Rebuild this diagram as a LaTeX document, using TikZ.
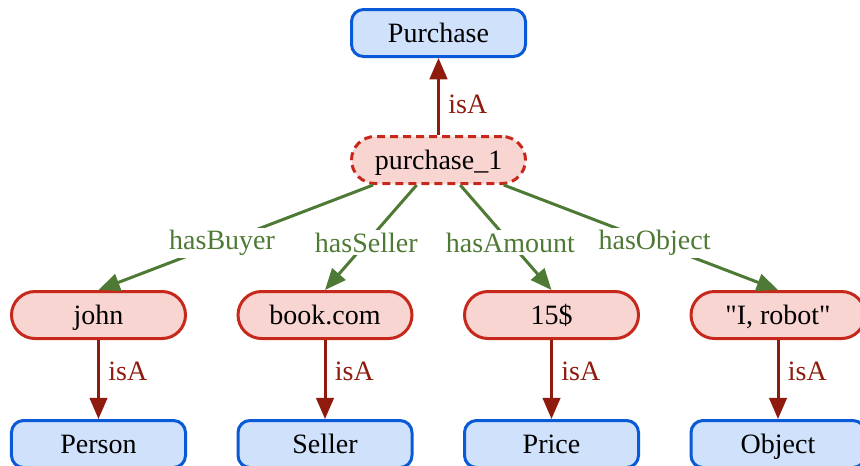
\documentclass[tikz,border=0pt]{standalone}
\usepackage{fontspec}
\setmainfont{Liberation Serif}
\usepackage{xcolor}
\usetikzlibrary{arrows.meta, positioning}

\definecolor{clsline}{HTML}{0A5AD8}
\definecolor{clsfill}{HTML}{CFE1FB}
\definecolor{instline}{HTML}{C7281C}
\definecolor{instfill}{HTML}{F9D5D2}
\definecolor{isacol}{HTML}{8F1A0E}
\definecolor{relcol}{HTML}{4E7A35}

\begin{document}
\begin{tikzpicture}[
  font=\fontsize{11.2}{13}\selectfont,
  node distance=62pt and 45.4pt, on grid,
  cls/.style={draw=clsline, fill=clsfill, line width=1.2pt, rounded corners=4.8pt,
              minimum width=69.6pt, minimum height=18.8pt, inner sep=0pt,
              text height=8.8pt, text depth=1.2pt},
  inst/.style={cls, draw=instline, fill=instfill, rounded corners=9.4pt},
  isa/.style={-{Triangle[length=8.5pt, width=7pt]}, line width=1.2pt, draw=isacol},
  rel/.style={-{Triangle[length=8.5pt, width=7pt]}, line width=1.2pt, draw=relcol},
  isalbl/.style={pos=0.4, right, text=isacol},
  rellbl/.style={pos=0.55, fill=white, inner sep=1pt, text=relcol},
]
  \useasboundingbox (-175.4pt,-122pt) rectangle (168.6pt,64pt);

  \node[inst, dash pattern=on 3.2pt off 2pt] (purchase1) {purchase\_1};
  \node[cls, above=50.8pt of purchase1] (purchase) {Purchase};

  \node[inst, below left=of purchase1] (bookcom) {book.com};
  \node[inst, left=90.6pt of bookcom]  (john)    {john};
  \node[inst, right=90.6pt of bookcom] (amount)  {15\$};
  \node[inst, right=90.6pt of amount]  (robot)   {\textquotedbl I, robot\textquotedbl};

  \node[cls, below=51.6pt of john]    (person) {Person};
  \node[cls, below=51.6pt of bookcom] (seller) {Seller};
  \node[cls, below=51.6pt of amount]  (price)  {Price};
  \node[cls, below=51.6pt of robot]   (object) {Object};

  \draw[isa] (purchase1) -- node[isalbl] {isA} (purchase);

  \draw[rel] (purchase1) -- node[rellbl] {hasBuyer}  (john.north);
  \draw[rel] (purchase1) -- node[rellbl] {hasSeller} (bookcom.north);
  \draw[rel] (purchase1) -- node[rellbl] {hasAmount} (amount.north);
  \draw[rel] (purchase1) -- node[rellbl] {hasObject} (robot.north);

  \draw[isa] (john)    -- node[isalbl] {isA} (person);
  \draw[isa] (bookcom) -- node[isalbl] {isA} (seller);
  \draw[isa] (amount)  -- node[isalbl] {isA} (price);
  \draw[isa] (robot)   -- node[isalbl] {isA} (object);
\end{tikzpicture}
\end{document}
